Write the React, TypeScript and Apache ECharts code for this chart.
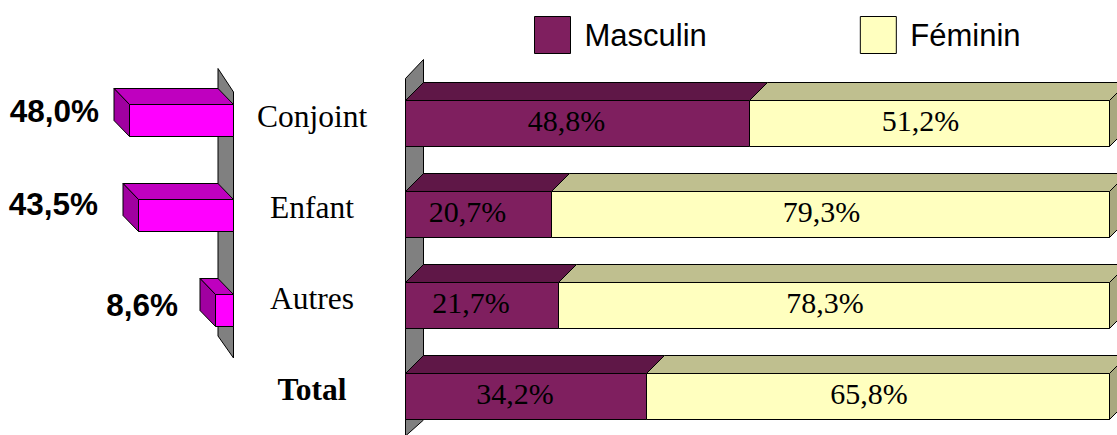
import React, { useEffect, useRef } from "react";
import * as echarts from "echarts";

const leftCategories = ["Conjoint", "Enfant", "Autres"];
const leftValues = [48.0, 43.5, 8.6];
const rightCategories = ["Conjoint", "Enfant", "Autres", "Total"];
const masculin = [48.8, 20.7, 21.7, 34.2];
const feminin = [51.2, 79.3, 78.3, 65.8];

const SERIF = "'Liberation Serif', 'Times New Roman', serif";
const SANS = "'Liberation Sans', Arial, sans-serif";
const LINE = "#000000";
const fmt = (v: number) => v.toFixed(1).replace(".", ",") + "%";

// layout of the hand-placed labels on the left side (gap to the bar, height above its row centre)
const leftLabelGap = [15, 25, 22];
const leftLabelRise = [10, 12, 6];

const poly = (points: number[][], fill: string, lineWidth = 1) => ({
  type: "polygon",
  shape: { points },
  style: { fill, stroke: LINE, lineWidth },
});

function rightBar(front: string, top: string, side: string | null, labelShift: number) {
  const H = 46;
  const D = 18;
  return (_: any, api: any) => {
    const a = api.coord([api.value(0), api.value(2)]);
    const b = api.coord([api.value(1), api.value(2)]);
    const y0 = Math.round(a[1] - H / 2) + 0.5;
    const y1 = y0 + H;
    const x0 = Math.round(a[0]) + 0.5;
    const x1 = Math.round(b[0]) + 0.5;
    const children: any[] = [
      poly([[x0, y0], [x0 + D, y0 - D], [x1 + D, y0 - D], [x1, y0]], top),
      poly([[x0, y0], [x1, y0], [x1, y1], [x0, y1]], front),
    ];
    if (side) children.push(poly([[x1, y0], [x1 + D, y0 - D], [x1 + D, y1 - D], [x1, y1]], side));
    children.push({
      type: "text",
      style: {
        text: fmt(api.value(1) - api.value(0)),
        x: (x0 + x1) / 2 + labelShift,
        y: (y0 + y1) / 2 - 3,
        align: "center",
        verticalAlign: "middle",
        font: `30px ${SERIF}`,
        fill: "#000000",
      },
    });
    return { type: "group", children };
  };
}

function leftBar(_: any, api: any) {
  const H = 32;
  const DX = 15.5;
  const DY = 16;
  const i = api.value(2);
  const a = api.coord([api.value(0), i]);
  const b = api.coord([api.value(1), i]);
  const y0 = Math.round(a[1] - H / 2) + 0.5;
  const y1 = y0 + H;
  const x0 = a[0];
  const x1 = Math.round(b[0]) + 0.5;
  return {
    type: "group",
    children: [
      poly([[x1, y0], [x1 - DX, y0 - DY], [x0 - DX, y0 - DY], [x0, y0]], "#BF00BF"),
      poly([[x1, y0], [x1 - DX, y0 - DY], [x1 - DX, y1 - DY], [x1, y1]], "#A000A0"),
      poly([[x1, y0], [x0, y0], [x0, y1], [x1, y1]], "#FF00FF"),
      {
        type: "text",
        style: {
          text: fmt(api.value(1)),
          x: x1 - DX - leftLabelGap[i],
          y: (y0 + y1) / 2 - leftLabelRise[i],
          align: "right",
          verticalAlign: "middle",
          font: `bold 31.5px ${SANS}`,
          fill: "#000000",
        },
      },
    ],
  };
}

function wall(points: (r: any) => number[][]) {
  return (params: any) => {
    const r = params.coordSys;
    return { type: "group", children: [poly(points(r), "#808080")] };
  };
}

function stacked(values: number[], base: number[]) {
  return values.map((v, i) => [base[i], base[i] + v, i]);
}

export default function App() {
  const ref = useRef<HTMLDivElement>(null);
  useEffect(() => {
    const chart = echarts.init(ref.current!, undefined, { renderer: "svg" });
    const zero = masculin.map(() => 0);
    chart.setOption({
      animation: false,
      backgroundColor: "#ffffff",
      legend: {
        left: 529,
        top: 11,
        orient: "horizontal",
        selectedMode: false,
        itemWidth: 36,
        itemHeight: 37,
        itemGap: 153,
        textStyle: { fontFamily: SANS, fontSize: 31, color: "#000000", padding: [0, 0, 0, 9] },
        data: [
          { name: "Masculin", icon: "rect", itemStyle: { color: "#7F1F5F", borderColor: LINE, borderWidth: 1 } },
          { name: "Féminin", icon: "rect", itemStyle: { color: "#FFFFBF", borderColor: LINE, borderWidth: 1 } },
        ],
      },
      grid: [
        { left: 15, width: 218.5, top: 72.5, height: 285 },
        { left: 405, width: 704, top: 77.5, height: 364 },
      ],
      xAxis: [
        { gridIndex: 0, type: "value", inverse: true, min: 0, max: 100, show: false },
        { gridIndex: 1, type: "value", min: 0, max: 100, show: false },
      ],
      yAxis: [
        { gridIndex: 0, type: "category", inverse: true, data: leftCategories, show: false },
        {
          gridIndex: 1,
          type: "category",
          inverse: true,
          data: rightCategories,
          axisLine: { show: false },
          axisTick: { show: false },
          axisLabel: {
            margin: 93,
            align: "center",
            formatter: (v: string) => (v === "Total" ? `{b|${v}}` : `{r|${v}}`),
            rich: {
              r: { fontFamily: SERIF, fontSize: 31.5, color: "#000000", padding: [0, 0, 13, 0] },
              b: { fontFamily: SERIF, fontSize: 31.5, fontWeight: "bold", color: "#000000", padding: [0, 0, 13, 0] },
            },
          },
        },
      ],
      series: [
        {
          type: "custom",
          name: "wallLeft",
          xAxisIndex: 0,
          yAxisIndex: 0,
          silent: true,
          data: [[0, 0]],
          renderItem: wall((r) => {
            const right = r.x + r.width;
            return [[right - 15.5, 68.5], [right, 92], [right, 358], [right - 15.5, 336]];
          }),
        },
        {
          type: "custom",
          name: "wallRight",
          xAxisIndex: 1,
          yAxisIndex: 1,
          silent: true,
          data: [[0, 0]],
          renderItem: wall((r) => [
            [r.x + 0.5, 78.5],
            [r.x + 18.5, 59.5],
            [r.x + 18.5, 420],
            [r.x + 0.5, 436],
          ]),
        },
        {
          type: "custom",
          name: "Total hommes",
          xAxisIndex: 0,
          yAxisIndex: 0,
          silent: true,
          encode: { x: [0, 1], y: 2 },
          data: leftValues.map((v, i) => [0, v, i]),
          renderItem: leftBar,
        },
        {
          type: "custom",
          name: "Masculin",
          xAxisIndex: 1,
          yAxisIndex: 1,
          silent: true,
          itemStyle: { color: "#7F1F5F" },
          encode: { x: [0, 1], y: 2 },
          data: stacked(masculin, zero),
          renderItem: rightBar("#7F1F5F", "#5F1747", null, -11),
        },
        {
          type: "custom",
          name: "Féminin",
          xAxisIndex: 1,
          yAxisIndex: 1,
          silent: true,
          itemStyle: { color: "#FFFFBF" },
          encode: { x: [0, 1], y: 2 },
          data: stacked(feminin, masculin),
          renderItem: rightBar("#FFFFBF", "#BFBF8F", "#A8A880", -9),
        },
      ],
    });
    return () => chart.dispose();
  }, []);
  return (
    <div style={{ position: "fixed", left: 0, top: 0, width: 1117, height: 435, overflow: "hidden" }}>
      <div ref={ref} style={{ width: 1117, height: 470 }} />
    </div>
  );
}
